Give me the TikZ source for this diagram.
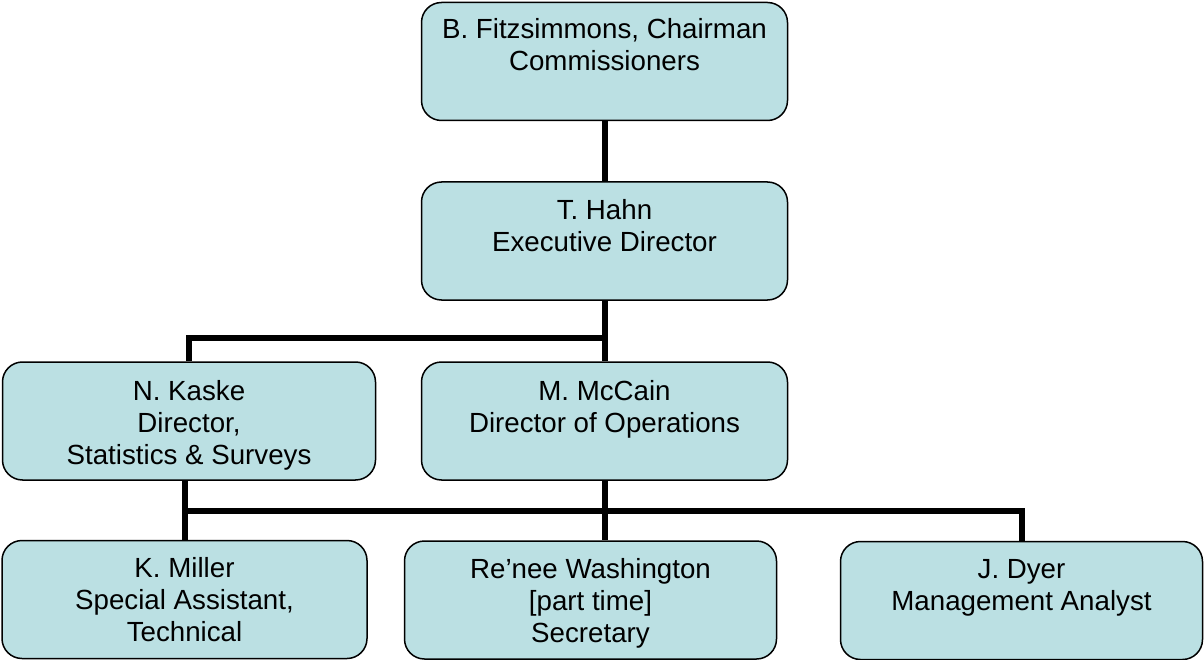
\documentclass[tikz,border=0pt]{standalone}
\usepackage{fontspec}
\setmainfont{Liberation Sans}
\usetikzlibrary{positioning,calc}
\definecolor{boxfill}{RGB}{187,224,227}

\begin{document}
\begin{tikzpicture}[x=1pt,y=-1pt,
  bx/.style={draw,fill=boxfill,line width=1.5pt,rounded corners=20pt,minimum height=118pt,inner sep=0pt},
  tx/.style={anchor=base,align=center,inner sep=0pt,font=\fontsize{27.7}{32}\selectfont},
  lk/.style={line width=6pt}]
\useasboundingbox (0,0) rectangle (1204,660);
% boxes
\node[bx,minimum width=366pt] (chair) at (604.5,61.5) {};
\node[bx,minimum width=366pt] (hahn) at (604.5,241) {};
\node[bx,minimum width=373pt] (kaske) at (189,421) {};
\node[bx,minimum width=366pt] (mccain) at (604.5,421) {};
\node[bx,minimum width=365pt] (miller) at (184.5,599.5) {};
\node[bx,minimum width=372pt] (washington) at (590.5,600) {};
\node[bx,minimum width=362pt] (dyer) at (1021.5,600.5) {};
% texts (base = last line)
\node[tx] (chairT) at ([yshift=-69pt]chair.north) {B. Fitzsimmons, Chairman\\Commissioners};
\node[tx] (hahnT) at ([yshift=-70pt]hahn.north) {T. Hahn\\Executive Director};
\node[tx] (kaskeT) at ([yshift=-103pt]kaske.north) {N. Kaske\\Director,\\Statistics \& Surveys};
\node[tx] (mccainT) at ([yshift=-71pt]mccain.north) {M. McCain\\Director of Operations};
\node[tx] (millerT) at ([yshift=-102pt]miller.north) {K. Miller\\Special Assistant,\\Technical};
\node[tx] (washingtonT) at ([yshift=-102pt]washington.north) {Re’nee Washington\\{[part time]}\\Secretary};
\node[tx] (dyerT) at ([yshift=-70pt]dyer.north) {J. Dyer\\Management Analyst};
% connectors
\coordinate (busA) at (604.5,338);
\coordinate (busB) at (604.5,511);
\draw[lk] (chair.south) -- (hahn.north);
\draw[lk] (hahn.south) -- (mccain.north);
\draw[lk] (kaske.north) |- (busA);
\draw[lk] (miller.north |- kaske.south) -- (miller.north);
\draw[lk] (mccain.south) -- (mccain.south |- washington.north);
\draw[lk] (miller.north |- busB) -| (dyer.north);
\end{tikzpicture}
\end{document}
